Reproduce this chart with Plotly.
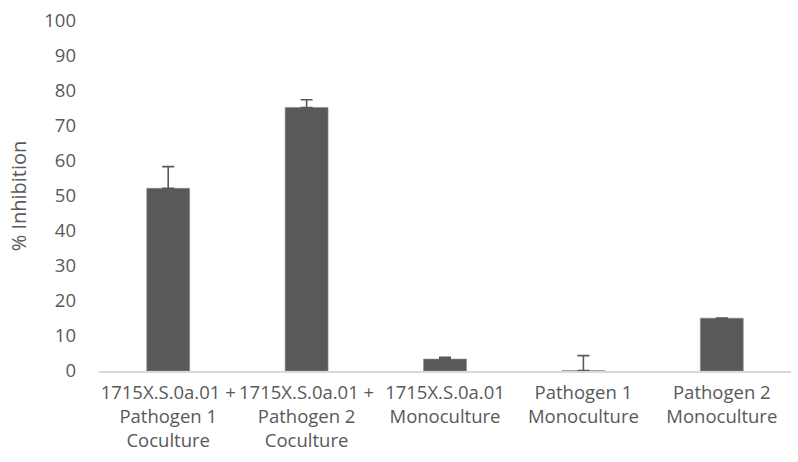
import plotly.graph_objects as go

categories = [
    "1715X.S.0a.01 +<br>Pathogen 1<br>Coculture",
    "1715X.S.0a.01 +<br>Pathogen 2<br>Coculture",
    "1715X.S.0a.01<br>Monoculture",
    "Pathogen 1<br>Monoculture",
    "Pathogen 2<br>Monoculture",
]
inhibition = [52.2, 75.3, 3.4, 0.1, 15.1]
error_plus = [6.2, 2.2, 0.5, 4.3, 0.0]
y_ticks = list(range(0, 101, 10))

fig = go.Figure(
    go.Bar(
        x=categories,
        y=inhibition,
        marker=dict(color="#595959", line=dict(color="#8a8a8a", width=0.6)),
        width=0.31,
        error_y=dict(type="data", array=error_plus, symmetric=False,
                     arrayminus=[0] * len(error_plus),
                     color="#595959", thickness=1.6, width=6),
    )
)

fig.update_layout(
    width=798, height=462,
    margin=dict(l=99, r=7, t=18, b=91),
    paper_bgcolor="white", plot_bgcolor="white",
    font=dict(family="Open Sans, Liberation Sans, sans-serif", size=18, color="#595959"),
    showlegend=False,
)
fig.update_yaxes(
    range=[0, 100], tickvals=y_ticks, showgrid=False, zeroline=False,
    showline=False, ticks="", ticklabelstandoff=22,
    tickfont=dict(size=18.5),
    title=dict(text="% Inhibition", font=dict(size=20), standoff=12),
)
fig.update_xaxes(
    showline=True, linecolor="#d9d9d9", linewidth=1.5, ticks="",
    tickfont=dict(size=18.5), ticklabelstandoff=4,
)

fig.write_html("out.html")
